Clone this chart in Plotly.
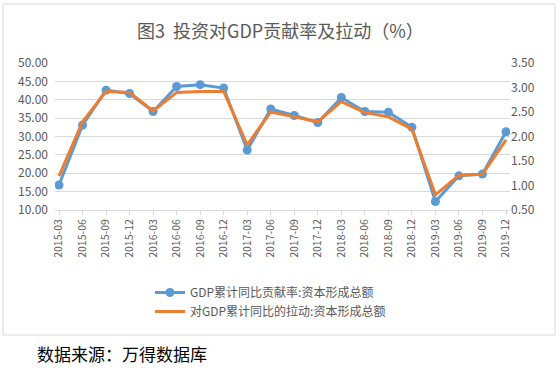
import plotly.graph_objects as go

categories = ["2015-03", "2015-06", "2015-09", "2015-12", "2016-03", "2016-06", "2016-09", "2016-12",
              "2017-03", "2017-06", "2017-09", "2017-12", "2018-03", "2018-06", "2018-09", "2018-12",
              "2019-03", "2019-06", "2019-09", "2019-12"]
contribution = [16.8, 33.1, 42.6, 41.7, 36.8, 43.6, 44.1, 43.2, 26.3, 37.5, 35.7, 33.8, 40.6, 36.8, 36.6,
                32.5, 12.3, 19.3, 19.8, 31.3]
pull = [1.19, 2.30, 2.92, 2.90, 2.52, 2.90, 2.92, 2.92, 1.83, 2.50, 2.40, 2.30, 2.71, 2.49, 2.40, 2.15,
        0.81, 1.21, 1.23, 1.93]
left_ticks = [10, 15, 20, 25, 30, 35, 40, 45, 50]
right_ticks = [0.5, 1.0, 1.5, 2.0, 2.5, 3.0, 3.5]

name1 = "GDP累计同比贡献率:资本形成总额"
name2 = "对GDP累计同比的拉动:资本形成总额"

FONT = "Noto Sans CJK SC"
GRAY = "#595959"

fig = go.Figure()
fig.add_trace(go.Scatter(x=categories, y=contribution, name=name1, mode="lines+markers",
                         line=dict(color="#5B9BD5", width=3),
                         marker=dict(color="#5B9BD5", size=9)))
fig.add_trace(go.Scatter(x=categories, y=pull, name=name2, mode="lines", yaxis="y2",
                         line=dict(color="#ED7D31", width=3)))

L, R, T, B = 55, 50, 63, 161
W, H = 560, 371
pw = W - L - R
ph = H - T - B

def px(x):
    return (x - L) / pw

def py(y):
    return (H - B - y) / ph

fig.update_layout(
    width=W, height=H,
    margin=dict(l=L, r=R, t=T, b=B, autoexpand=False),
    paper_bgcolor="white", plot_bgcolor="white",
    font=dict(family=FONT, color=GRAY),
    showlegend=True,
    legend=dict(x=px(150), y=py(278), xanchor="left", yanchor="top",
                font=dict(size=12, color=GRAY, family=FONT),
                bgcolor="rgba(0,0,0,0)", tracegroupgap=0, itemwidth=30),
    xaxis=dict(type="category", range=[-0.17, len(categories) - 1 + 0.17],
               tickangle=-90, tickfont=dict(size=10.5, color=GRAY),
               showgrid=False, showline=True, linecolor="#D9D9D9", linewidth=1,
               ticks="outside", ticklen=4, tickcolor="#D9D9D9", zeroline=False),
    yaxis=dict(range=[10, 50], tickvals=left_ticks,
               ticktext=[f"{v:.2f}" for v in left_ticks],
               tickfont=dict(size=12, color=GRAY), showgrid=True, gridcolor="#D9D9D9",
               zeroline=False, showline=False, ticks="", ticklabelstandoff=6),
    yaxis2=dict(range=[0.5, 3.5], tickvals=right_ticks,
                ticktext=[f"{v:.2f}" for v in right_ticks],
                tickfont=dict(size=12, color=GRAY), overlaying="y", side="right",
                showgrid=False, zeroline=False, showline=False),
)

fig.add_shape(type="rect", xref="paper", yref="paper",
              x0=px(3), x1=px(555), y0=py(335), y1=py(4),
              line=dict(color="#D9D9D9", width=1), fillcolor="rgba(0,0,0,0)", layer="below")

fig.add_annotation(text="图3  投资对GDP贡献率及拉动（%）", xref="paper", yref="paper",
                   x=px(280), y=py(30), xanchor="center", yanchor="middle", showarrow=False,
                   font=dict(size=18, color=GRAY, family=FONT))
fig.add_annotation(text="数据来源：万得数据库", xref="paper", yref="paper",
                   x=px(35), y=py(353), xanchor="left", yanchor="middle", showarrow=False,
                   font=dict(size=17, color="#000000", family=FONT))

fig.write_html("out.html", config={"displayModeBar": False},
               post_script="document.body.style.margin='0';")
